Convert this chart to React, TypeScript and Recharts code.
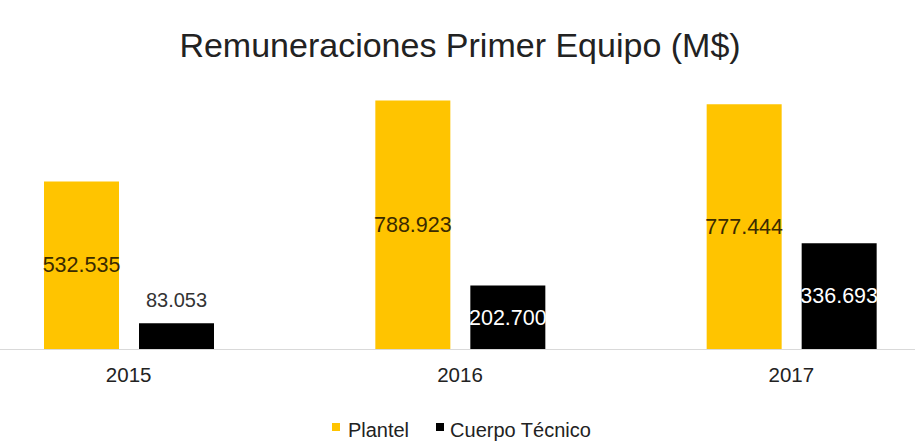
import React from 'react';
import { BarChart, Bar, XAxis, YAxis, Legend, LabelList } from 'recharts';

const years = ['2015', '2016', '2017'];
const plantel = [532535, 788923, 777444];
const cuerpoTecnico = [83053, 202700, 336693];
const seriesNames = { plantel: 'Plantel', ct: 'Cuerpo Técnico' };
const seriesColors = { plantel: '#FFC400', ct: '#000000' };

const data = years.map((y, i) => ({ year: y, plantel: plantel[i], ct: cuerpoTecnico[i] }));

const FONT = '"Liberation Sans", Arial, Helvetica, sans-serif';

const fmt = (v: number) => String(v).replace(/\B(?=(\d{3})+(?!\d))/g, '.');

const makeLabel = (insideColor: string) => (props: any) => {
  const { x, y, width, height, value } = props;
  const cx = Number(x) + Number(width) / 2;
  const h = Number(height);
  const inside = h > 40;
  const cy = inside ? Number(y) + h / 2 : Number(y) - 23;
  return (
    <text
      x={cx}
      y={cy}
      textAnchor="middle"
      dominantBaseline="central"
      fill={inside ? insideColor : '#333333'}
      fontSize={inside ? 21.5 : 20}
      fontFamily={FONT}
    >
      {fmt(Number(value))}
    </text>
  );
};

const LegendContent = () => (
  <div
    style={{
      display: 'flex',
      justifyContent: 'center',
      alignItems: 'flex-start',
      fontFamily: FONT,
      fontSize: 20,
      lineHeight: '20px',
      color: '#222',
      paddingLeft: 2,
    }}
  >
    {(['plantel', 'ct'] as const).map((k, i) => (
      <div key={k} style={{ display: 'flex', alignItems: 'flex-start', marginLeft: i === 0 ? 0 : 27 }}>
        <div style={{ width: 8, height: 8, marginTop: 3, background: seriesColors[k], marginRight: i === 0 ? 8 : 6 }} />
        <span>{seriesNames[k]}</span>
      </div>
    ))}
  </div>
);

export default function App() {
  return (
    <div
      style={{
        position: 'absolute',
        left: 0,
        top: 0,
        width: 915,
        height: 442,
        overflow: 'hidden',
        background: '#fff',
      }}
    >
      <div
        style={{
          position: 'absolute',
          top: 27.5,
          left: 0,
          width: 920,
          textAlign: 'center',
          fontFamily: FONT,
          fontSize: 34,
          lineHeight: '34px',
          color: '#222',
          whiteSpace: 'nowrap',
        }}
      >
        Remuneraciones Primer Equipo (M$)
      </div>
      <div style={{ position: 'absolute', left: -86.6, top: 0 }}>
        <BarChart
          width={1094}
          height={442}
          data={data}
          margin={{ top: 65.5, right: 50, bottom: 62.5, left: 50 }}
          barSize={75}
          barGap={20}
        >
          <YAxis hide domain={[0, 900000]} />
          <XAxis
            dataKey="year"
            height={30}
            tickLine={false}
            tickSize={0}
            tickMargin={18}
            interval={0}
            axisLine={{ stroke: '#d9d9d9' }}
            tick={{ fill: '#222', fontSize: 20.5, fontFamily: FONT }}
          />
          <Legend
            layout="horizontal"
            verticalAlign="middle"
            align="center"
            wrapperStyle={{ top: 420, left: 0, width: 1094 }}
            content={<LegendContent />}
          />
          <Bar dataKey="plantel" name={seriesNames.plantel} fill={seriesColors.plantel} isAnimationActive={false}>
            <LabelList dataKey="plantel" content={makeLabel('#3a2a00')} />
          </Bar>
          <Bar dataKey="ct" name={seriesNames.ct} fill={seriesColors.ct} isAnimationActive={false}>
            <LabelList dataKey="ct" content={makeLabel('#ffffff')} />
          </Bar>
        </BarChart>
      </div>
    </div>
  );
}
